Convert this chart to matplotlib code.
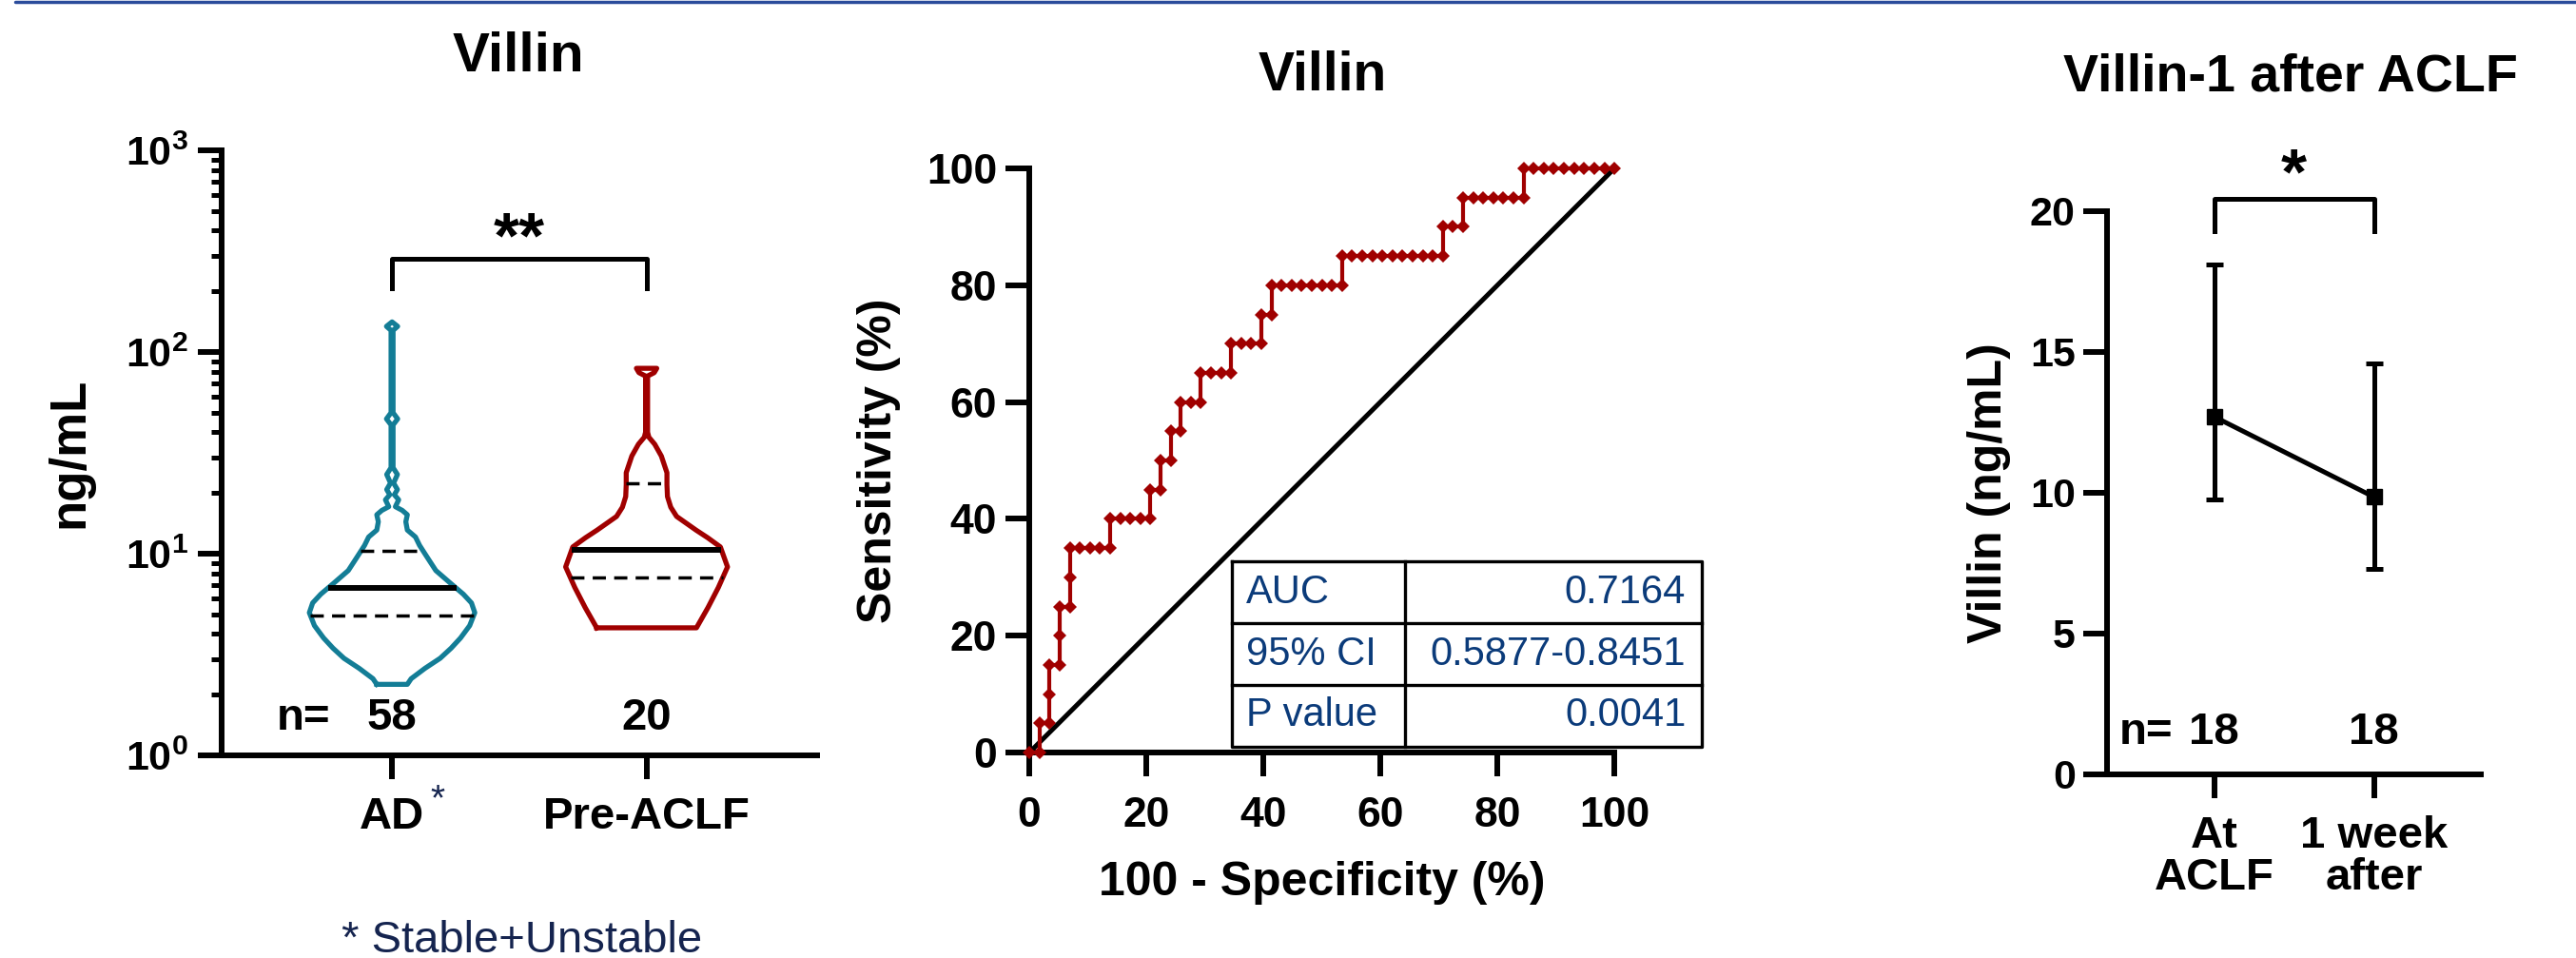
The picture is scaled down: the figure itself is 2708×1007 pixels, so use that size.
import numpy as np
import matplotlib
matplotlib.use("Agg")
import matplotlib.pyplot as plt
from matplotlib.lines import Line2D
from matplotlib.ticker import LogLocator, NullFormatter

plt.rcParams['font.family'] = ['Liberation Sans', 'DejaVu Sans']
plt.rcParams['font.weight'] = 'bold'
plt.rcParams['axes.labelweight'] = 'bold'
plt.rcParams['mathtext.default'] = 'regular'
plt.rcParams['axes.linewidth'] = 4.3

# --- left panel: violin outlines (value, half-width) ---
groups = ["AD", "Pre-ACLF"]
group_n = [58, 20]
ad_v = [2.25, 2.40, 2.70, 3.03, 3.40, 3.82, 4.40, 5.10, 5.70, 6.30, 7.20, 8.25, 9.10, 10.0,
        11.0, 12.1, 13.1, 14.4, 15.6, 16.4, 17.1, 18.5, 19.6, 20.8, 22.4, 24.7, 26.7,
        43.5, 46.6, 50.0, 128.0, 134.0, 141.0]
ad_w = [0.060, 0.075, 0.129, 0.189, 0.232, 0.269, 0.305, 0.325, 0.312, 0.280, 0.226, 0.172,
        0.150, 0.129, 0.108, 0.092, 0.060, 0.054, 0.060, 0.040, 0.013, 0.026, 0.009, 0.021,
        0.006, 0.021, 0.004, 0.004, 0.022, 0.004, 0.004, 0.022, 0.0]
pre_v = [4.29, 5.40, 6.80, 8.60, 10.8, 12.0, 13.1, 15.3, 17.0, 19.2, 22.0, 25.2, 30.5,
         34.9, 37.8, 40.0, 76.0, 79.0, 83.0]
pre_w = [0.196, 0.241, 0.282, 0.318, 0.290, 0.240, 0.194, 0.118, 0.095, 0.082, 0.080,
         0.080, 0.058, 0.032, 0.009, 0.004, 0.004, 0.030, 0.040]
ad_quart = [4.94, 6.75, 10.3]
pre_quart = [7.6, 10.5, 22.3]

# --- middle panel: ROC points (false / true positive counts) ---
n_neg, n_pos = 58, 20
fp_counts = [0, 1, 1, 2, 2, 2, 3, 3, 3, 4, 4, 4, 5, 6, 7, 8, 8, 9, 10, 11, 12, 12, 13, 13,
             14, 14, 15, 15, 16, 17, 17, 18, 19, 20, 20, 21, 22, 23, 23, 24, 24,
             25, 26, 27, 28, 29, 30, 31, 31, 32, 33, 34, 35, 36, 37, 38, 39, 40, 41,
             41, 42, 43, 43, 44, 45, 46, 47, 48, 49, 49, 50, 51, 52, 53, 54, 55, 56, 57, 58]
tp_counts = [0, 0, 1, 1, 2, 3, 3, 4, 5, 5, 6, 7, 7, 7, 7, 7, 8, 8, 8, 8, 8, 9, 9, 10,
             10, 11, 11, 12, 12, 12, 13, 13, 13, 13, 14, 14, 14, 14, 15, 15, 16,
             16, 16, 16, 16, 16, 16, 16, 17, 17, 17, 17, 17, 17, 17, 17, 17, 17, 17,
             18, 18, 18, 19, 19, 19, 19, 19, 19, 19, 20, 20, 20, 20, 20, 20, 20, 20, 20, 20]
chance = [0, 100]
table_rows = ["AUC", "95% CI", "P value"]
table_vals = ["0.7164", "0.5877-0.8451", "0.0041"]

# --- right panel ---
times = ["At\nACLF", "1 week\nafter"]
time_n = [18, 18]
villin_mid = [12.7, 9.85]
villin_low = [9.75, 7.3]
villin_high = [18.1, 14.6]

teal = "#137D96"
darkred = "#A00000"
navy = "#0B3B7A"
foot = "#15244F"

fig = plt.figure(figsize=(27.08, 10.07), dpi=100)
ax1 = fig.add_axes([0.0860, 0.2115, 0.2312, 0.6316])
ax2 = fig.add_axes([0.3996, 0.2145, 0.2271, 0.6097])
ax3 = fig.add_axes([0.8180, 0.1917, 0.1451, 0.5879])

for ax in (ax1, ax2, ax3):
    ax.spines['top'].set_visible(False)
    ax.spines['right'].set_visible(False)
    ax.tick_params(which='major', length=18, width=4.3)

# top slide rule
fig.add_artist(Line2D([0.006, 1.0], [0.9985, 0.9985], color="#2B4C9B", lw=2.5,
                      solid_capstyle='round'))


def violin(ax, c, v, w, q, color):
    v = np.asarray(v)
    w = np.asarray(w)
    xs = np.concatenate([c - w, (c + w)[::-1], [c - w[0]]])
    ys = np.concatenate([v, v[::-1], [v[0]]])
    ax.plot(xs, ys, color=color, lw=3.8, solid_joinstyle='round')
    logv = np.log10(v)
    for i, qv in enumerate(q):
        hw = np.interp(np.log10(qv), logv, w)
        if i == 1:
            ax.plot([c - hw, c + hw], [qv, qv], color='black', lw=4.3, solid_capstyle='butt')
        else:
            ax.plot([c - hw, c + hw], [qv, qv], color='black', lw=2.5, ls=(0, (4, 2.5)))


# ---------------- panel 1 ----------------
violin(ax1, 0, ad_v, ad_w, ad_quart, teal)
violin(ax1, 1, pre_v, pre_w, pre_quart, darkred)
ax1.set_yscale('log')
ax1.set_ylim(1, 1000)
ax1.set_xlim(-0.67, 1.67)
ax1.yaxis.set_minor_locator(LogLocator(base=10, subs=np.arange(2, 10)))
ax1.yaxis.set_minor_formatter(NullFormatter())
ax1.tick_params(axis='y', which='minor', length=8, width=3.6)
ax1.tick_params(axis='y', labelsize=31, pad=7)
ax1.set_xticks(range(len(groups)))
ax1.set_xticklabels(groups)
ax1.tick_params(axis='x', labelsize=34, pad=13)
ax1.set_ylabel("ng/mL", fontsize=38, va='center')
ax1.yaxis.set_label_coords(-0.254, 0.5)
for i, n in enumerate(group_n):
    ax1.text(i, 1.53, str(n), ha='center', va='center', fontsize=34)
ax1.text(-0.243, 1.53, "n=", ha='right', va='center', fontsize=34)
ax1.plot([0, 0, 1, 1], [206, 290, 290, 206], color='black', lw=3.6, clip_on=False)
ax1.annotate("**", xy=(0.5, 443), xytext=(0, -27), textcoords='offset points',
             ha='center', va='baseline', fontsize=50, annotation_clip=False)
ax1.text(0.18, -0.075, "*", transform=ax1.get_xaxis_transform(), ha='center', va='center',
         fontsize=28, fontweight='normal', color=foot)
fig.text(359 / 2708, 1 - 1001 / 1007, "* Stable+Unstable", ha='left', va='baseline',
         fontsize=34, fontweight='normal', color=foot)

# ---------------- panel 2 ----------------
fpr = 100 * np.asarray(fp_counts) / n_neg
tpr = 100 * np.asarray(tp_counts) / n_pos
ax2.plot(chance, chance, color='black', lw=3.6, clip_on=False)
ax2.plot(fpr, tpr, color=darkred, lw=3.0, marker='D', markersize=7.5, markeredgewidth=0,
         clip_on=False, zorder=3)
ax2.set_xlim(0, 100)
ax2.set_ylim(0, 100)
ax2.set_xticks(range(0, 101, 20))
ax2.set_yticks(range(0, 101, 20))
ax2.tick_params(axis='y', labelsize=32, pad=6.5)
ax2.tick_params(axis='x', labelsize=32, pad=15)
ax2.set_xlabel("100 - Specificity (%)", fontsize=36, va='center')
ax2.xaxis.set_label_coords(0.5, -0.223)
ax2.set_ylabel("Sensitivity (%)", fontsize=36, va='center')
ax2.yaxis.set_label_coords(-0.257, 0.5)

# stats table (data coords of the ROC axes)
tx0, tx1, tx2 = 34.6, 64.2, 115.0
ty = [32.7, 22.1, 11.6, 1.0]
ax2.plot([tx0, tx2, tx2, tx0, tx0], [ty[0], ty[0], ty[3], ty[3], ty[0]], color='black',
         lw=2.4, clip_on=False, zorder=4)
ax2.plot([tx1, tx1], [ty[0], ty[3]], color='black', lw=2.4, clip_on=False, zorder=4)
for yy in ty[1:3]:
    ax2.plot([tx0, tx2], [yy, yy], color='black', lw=2.4, clip_on=False, zorder=4)
ax2.fill_between([tx0, tx2], ty[3], ty[0], color='white', zorder=3.5, clip_on=False)
for i, (lab, val) in enumerate(zip(table_rows, table_vals)):
    yc = (ty[i] + ty[i + 1]) / 2
    ax2.text(tx0 + 2.4, yc, lab, ha='left', va='center', fontsize=30, fontweight='normal',
             color=navy, zorder=5)
    ax2.text(tx2 - 2.8, yc, val, ha='right', va='center', fontsize=30, fontweight='normal',
             color=navy, zorder=5)

# ---------------- panel 3 ----------------
x3 = np.arange(len(times))
yerr = [np.subtract(villin_mid, villin_low), np.subtract(villin_high, villin_mid)]
ax3.errorbar(x3, villin_mid, yerr=yerr, color='black', lw=3.6, elinewidth=3.6,
             capsize=6.5, capthick=3.6, marker='s', markersize=12)
ax3.set_xlim(-0.67, 1.67)
ax3.set_ylim(0, 20)
ax3.set_yticks([0, 5, 10, 15, 20])
ax3.set_xticks(x3)
ax3.set_xticklabels(times, linespacing=1.0)
ax3.tick_params(axis='y', labelsize=31, pad=6)
ax3.tick_params(axis='x', labelsize=34, pad=13)
ax3.set_ylabel("Villin (ng/mL)", fontsize=36, va='center')
ax3.yaxis.set_label_coords(-0.316, 0.5)
for i, n in enumerate(time_n):
    ax3.text(i, 1.49, str(n), ha='center', va='center', fontsize=34)
ax3.text(-0.256, 1.49, "n=", ha='right', va='center', fontsize=34)
ax3.plot([0, 0, 1, 1], [19.3, 20.44, 20.44, 19.3], color='black', lw=3.6, clip_on=False)
ax3.annotate("*", xy=(0.5, 21.9), xytext=(0, -27), textcoords='offset points',
             ha='center', va='baseline', fontsize=50, annotation_clip=False)

# titles
fig.text(545 / 2708, 1 - 75 / 1007, "Villin", ha='center', va='baseline', fontsize=42)
fig.text(1390 / 2708, 1 - 95 / 1007, "Villin", ha='center', va='baseline', fontsize=41)
fig.text(2408 / 2708, 1 - 95 / 1007, "Villin-1 after ACLF", ha='center', va='baseline',
         fontsize=40)

fig.savefig("out.png", dpi=100)
